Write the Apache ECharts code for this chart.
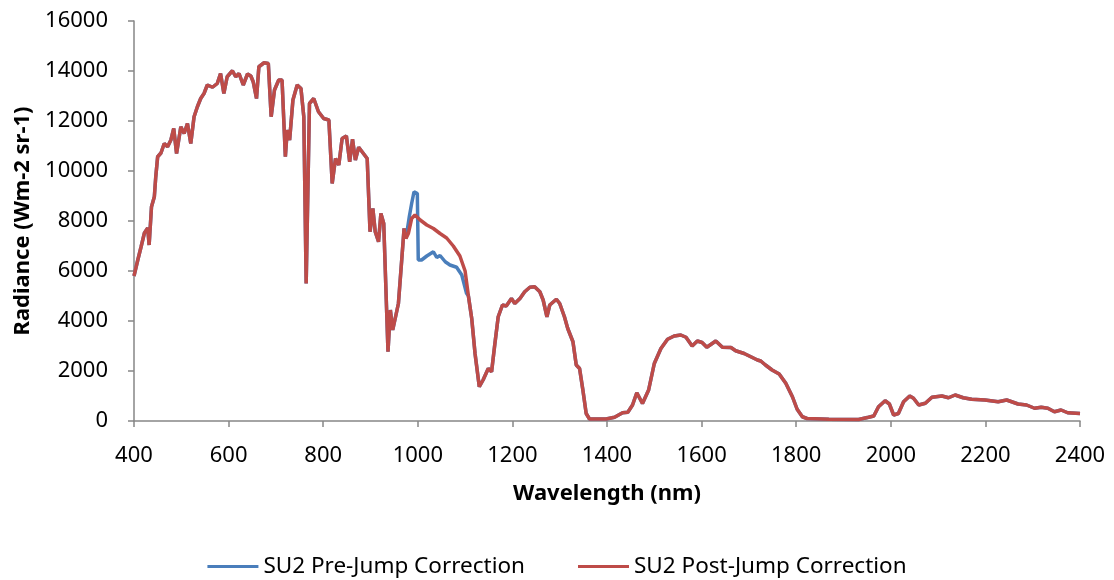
<!DOCTYPE html>
<html>
<head>
<meta charset="utf-8">
<script src="https://cdn.jsdelivr.net/npm/echarts@6/dist/echarts.min.js"></script>
<style>
html,body{margin:0;padding:0;background:#fff;}
#chart{width:1114px;height:580px;}
</style>
</head>
<body>
<div id="chart"></div>
<script>
// Wavelength (nm) and radiance for the post-jump corrected spectrum
const wavelength = [400,408,415,422,429,432,437,443,446,450,457,464,471,478,484,490,499,506,513,520,527,534,541,548,555,566,576,583,590,597,608,615,622,631,640,647,652,659,664,675,684,690,697,706,713,720,724,729,736,745,753,759,764,771,780,790,801,812,819,826,833,840,849,856,862,868,875,885,893,899,905,910,917,922,928,937,942,947,959,966,971,975,980,987,994,1005,1019,1033,1047,1061,1075,1089,1100,1107,1114,1121,1130,1138,1149,1156,1163,1170,1179,1187,1198,1205,1216,1226,1237,1247,1258,1265,1273,1279,1293,1300,1310,1317,1328,1335,1342,1349,1356,1363,1398,1416,1433,1444,1454,1463,1475,1488,1500,1514,1528,1542,1556,1567,1580,1591,1601,1611,1630,1644,1662,1672,1690,1704,1718,1725,1735,1749,1764,1778,1792,1802,1813,1823,1869,1932,1953,1964,1974,1988,1997,2006,2016,2027,2040,2048,2059,2073,2087,2108,2122,2136,2153,2171,2199,2227,2245,2269,2287,2304,2318,2332,2346,2360,2374,2400];
const postJump = [5800,6440,6970,7520,7720,7040,8570,8970,9770,10570,10720,11100,10970,11240,11700,10700,11770,11500,11900,11100,12170,12570,12900,13100,13440,13350,13500,13900,13100,13770,14010,13770,13900,13440,13880,13800,13570,12900,14170,14330,14300,12170,13240,13640,13640,10570,11640,11240,12840,13440,13300,12170,5500,12700,12900,12370,12100,12040,9500,10500,10240,11300,11400,10370,11270,10440,10950,10700,10500,7570,8500,7570,7170,8300,7900,2770,4440,3640,4700,6440,7700,7300,7500,8100,8240,8040,7840,7700,7500,7320,7000,6600,6000,5000,4100,2700,1370,1640,2100,1970,3100,4170,4640,4600,4900,4700,4900,5170,5350,5370,5170,4840,4170,4640,4870,4700,4170,3700,3170,2240,2100,1240,300,80,80,150,330,350,640,1130,700,1240,2300,2900,3270,3400,3440,3350,3000,3200,3140,2950,3200,2950,2940,2810,2700,2570,2440,2400,2240,2040,1880,1510,970,470,170,100,70,60,150,200,570,810,680,240,300,770,1000,910,640,710,950,1000,930,1040,930,870,840,770,840,680,640,510,550,510,370,440,330,300];
// Pre-jump correction differs only in the jump region
const preJumpWavelength = [978,982,987,992,999,1001,1008,1019,1033,1040,1047,1058,1068,1082,1093,1103];
const preJumpValues = [7240,8170,8700,9170,9100,6440,6440,6600,6770,6540,6620,6370,6240,6150,5840,5110];
const jumpStart = 977, jumpEnd = 1105;

const seriesNames = ['SU2 Pre-Jump Correction','SU2 Post-Jump Correction'];
const xTicks = {min:400, max:2400, interval:200};
const yTicks = {min:0, max:16000, interval:2000};

const postData = wavelength.map((w,i)=>[w, postJump[i]]);
const preData = [];
wavelength.forEach((w,i)=>{ if (w < jumpStart) preData.push([w, postJump[i]]); });
preJumpWavelength.forEach((w,i)=>preData.push([w, preJumpValues[i]]));
wavelength.forEach((w,i)=>{ if (w > jumpEnd) preData.push([w, postJump[i]]); });

const FONT = '"Noto Sans", sans-serif';
const plain = v => String(v);
const chart = echarts.init(document.getElementById('chart'), null, {renderer:'canvas'});
chart.setOption({
  animation:false,
  backgroundColor:'#ffffff',
  grid:{left:134, right:34, top:21, bottom:159, containLabel:false},
  legend:{
    top:550, left:'center',
    icon:'rect', itemWidth:51, itemHeight:3, itemGap:53,
    textStyle:{fontFamily:FONT, fontSize:22.5, color:'#000'},
    data:seriesNames
  },
  xAxis:{
    type:'value', min:xTicks.min, max:xTicks.max, interval:xTicks.interval,
    name:'Wavelength (nm)', nameLocation:'middle', nameGap:62,
    nameTextStyle:{fontFamily:FONT, fontSize:22, fontWeight:'bold', color:'#000'},
    axisLine:{show:true, lineStyle:{color:'#868686', width:1.5}},
    axisTick:{show:true, length:6, lineStyle:{color:'#868686', width:1.5}},
    splitLine:{show:false},
    axisLabel:{fontFamily:FONT, fontSize:22, color:'#000', margin:24, formatter:plain}
  },
  yAxis:{
    type:'value', min:yTicks.min, max:yTicks.max, interval:yTicks.interval,
    name:'Radiance (Wm-2 sr-1)', nameLocation:'middle', nameGap:95, nameRotate:90,
    nameTextStyle:{fontFamily:FONT, fontSize:22, fontWeight:'bold', color:'#000'},
    axisLine:{show:true, lineStyle:{color:'#868686', width:1.5}},
    axisTick:{show:true, length:6, lineStyle:{color:'#868686', width:1.5}},
    splitLine:{show:false},
    axisLabel:{fontFamily:FONT, fontSize:22, color:'#000', margin:26, formatter:plain}
  },
  series:[
    {name:seriesNames[0], type:'line', data:preData, showSymbol:false, symbol:'none',
     lineStyle:{color:'#4A7EBB', width:3.5}, itemStyle:{color:'#4A7EBB'}, z:2},
    {name:seriesNames[1], type:'line', data:postData, showSymbol:false, symbol:'none',
     lineStyle:{color:'#BE4B48', width:3.5}, itemStyle:{color:'#BE4B48'}, z:3}
  ]
});
</script>
</body>
</html>
